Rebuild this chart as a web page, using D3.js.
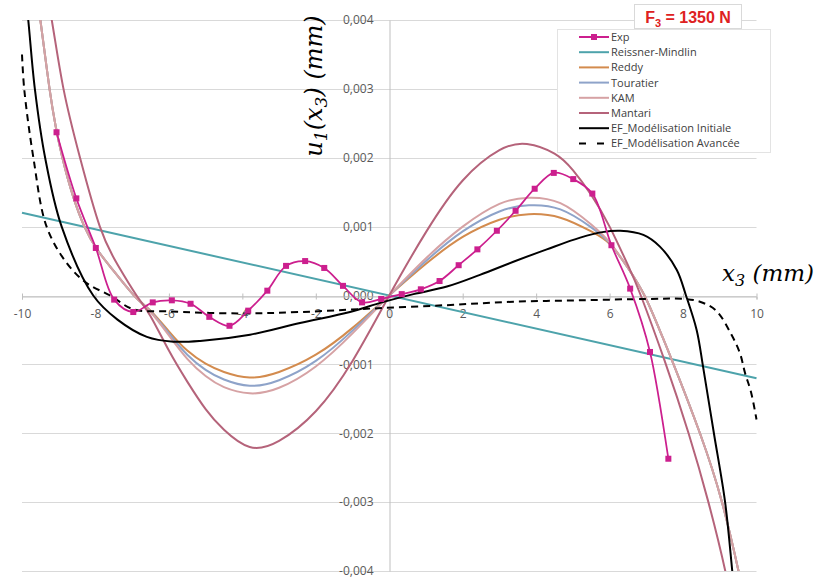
<!DOCTYPE html>
<html>
<head>
<meta charset="utf-8">
<script src="https://cdn.jsdelivr.net/npm/d3@7"></script>
<style>
  body { margin: 0; background: #fff; }
  svg { display: block; }
</style>
</head>
<body>
<svg width="818" height="580"></svg>
<script>
// axis ticks
var x_ticks = [-10, -8, -6, -4, -2, 0, 2, 4, 6, 8, 10];
var y_ticks = [-0.004, -0.003, -0.002, -0.001, 0, 0.001, 0.002, 0.003, 0.004];

// Exp (measured points)
var exp_x = [-9.06, -8.52, -7.99, -7.49, -6.97, -6.44, -5.92, -5.41, -4.9, -4.35, -3.84, -3.32, -2.81, -2.29, -1.77, -1.26, -0.74, -0.22,
             0.34, 0.86, 1.37, 1.89, 2.40, 2.93, 3.44, 3.96, 4.48, 5.01, 5.53, 6.05, 6.56, 7.10, 7.60];
var exp_y = [0.00237, 0.00141, 0.00069, -0.00006, -0.00024, -0.0001, -0.00007, -0.00012, -0.00031, -0.00044, -0.00022, 0.00007, 0.00043, 0.0005, 0.0004, 0.00014, -0.0001, -0.00005,
             0.00002, 0.00009, 0.00021, 0.00044, 0.00067, 0.00094, 0.00123, 0.00155, 0.00178, 0.00169, 0.00148, 0.00073, 0.0001, -0.00082, -0.00237];

// Reissner-Mindlin
var rm_x = [-10, 10];
var rm_y = [0.0012, -0.0012];

// shared abscissae of the model curves
var model_x = [-9.7, -9.5, -9.25, -8.9, -8.3, -7.6, -6.95, -6.5, -6, -5.5, -5, -4.5, -3.8, -3, -2, -1, 0,
               1, 2, 3, 3.8, 4.66, 5.5, 6.02, 6.5, 6.95, 7.4, 7.78, 8.46, 9.06, 9.51, 9.75];

// Reddy
var reddy_y = [0.0046, 0.004, 0.003, 0.002, 0.001, 0.00042, 0, -0.00022, -0.00052, -0.0008, -0.00099, -0.00111, -0.00119, -0.00111, -0.00086, -0.00047, 0,
               0.00046, 0.00085, 0.0011, 0.00118, 0.00113, 0.00093, 0.00074, 0.0004, 0, -0.00055, -0.00105, -0.002, -0.003, -0.004, -0.0046];

// Touratier
var tour_y = [0.0046, 0.004, 0.003, 0.002, 0.001, 0.00042, 0, -0.00023, -0.00055, -0.00086, -0.00108, -0.00122, -0.00131, -0.00123, -0.00095, -0.00051, 0,
              0.0005, 0.00093, 0.00122, 0.00131, 0.00125, 0.00099, 0.00075, 0.0004, 0, -0.00055, -0.00105, -0.002, -0.003, -0.004, -0.0046];

// KAM
var kam_y = [0.0046, 0.004, 0.003, 0.002, 0.001, 0.00042, 0, -0.00024, -0.00058, -0.00092, -0.00117, -0.00133, -0.00142, -0.00134, -0.00103, -0.00055, 0,
             0.00054, 0.001, 0.00133, 0.00142, 0.00134, 0.00103, 0.00076, 0.0004, 0, -0.00055, -0.00105, -0.002, -0.003, -0.004, -0.0046];

// Mantari
var mant_x = [-9.45, -9.19, -8.87, -8.42, -7.88, -7.4, -6.88, -6.5, -6, -5.5, -5, -4.5, -3.8, -3, -2, -1, 0,
              1, 2, 3, 3.75, 4.5, 5, 5.5, 6, 6.5, 6.85, 7.5, 8.15, 8.69, 9.15, 9.4];
var mant_y = [0.0047, 0.004, 0.003, 0.002, 0.001, 0.00045, 0, -0.0003, -0.0008, -0.00125, -0.00165, -0.00195, -0.0022, -0.00211, -0.00168, -0.00095, 0,
              0.00092, 0.00167, 0.00211, 0.0022, 0.00206, 0.00182, 0.00146, 0.001, 0.00044, 0, -0.00095, -0.002, -0.003, -0.004, -0.0047];

// EF_Modélisation Initiale
var efi_x = [-9.95, -9.83, -9.65, -9.37, -8.92, -8.06, -7.4, -6.6, -5.88, -5.15, -3.79, -2.43, -1.07, -0.2,
             0.66, 1.57, 2.47, 3.38, 4.29, 5.2, 5.8, 6.29, 6.92, 7.37, 7.83, 8.08, 8.37, 8.55, 8.84, 9.145, 9.34, 9.45];
var efi_y = [0.0046, 0.004, 0.003, 0.002, 0.001, 0, -0.00035, -0.0006, -0.00067, -0.00066, -0.00057, -0.0004, -0.00024, -0.0001,
             0.00002, 0.00013, 0.0003, 0.00049, 0.00067, 0.00084, 0.00092, 0.00094, 0.00088, 0.00071, 0.00037, 0, -0.0005, -0.00105, -0.002, -0.003, -0.004, -0.0046];

// EF_Modélisation Avancée
var efa_x = [-10, -9.94, -9.69, -9.33, -8.78, -8.24, -7.6, -6.97, -6.06, -4.06, -2.43, -0.5,
             1.57, 3.38, 5.2, 7.01, 8.0, 8.46, 8.9, 9.3, 9.55, 9.69, 9.85, 10];
var efa_y = [0.0035, 0.003, 0.002, 0.001, 0.00047, 0.00018, 0, -0.0002, -0.00023, -0.00026, -0.00024, -0.00019,
             -0.00014, -0.00009, -0.00007, -0.00005, -0.00005, -0.00009, -0.00022, -0.00055, -0.00084, -0.00113, -0.0014, -0.0018];

var legend_names = ["Exp", "Reissner-Mindlin", "Reddy", "Touratier", "KAM", "Mantari",
                    "EF_Modélisation Initiale", "EF_Modélisation Avancée"];

const EXP_COLOR = '#cc1f8e';
const RM_COLOR = '#4da3ab';
const REDDY_COLOR = '#d38b4e';
const TOUR_COLOR = '#8ea3c9';
const KAM_COLOR = '#d6a2a4';
const MANT_COLOR = '#b5637a';

var svg = d3.select("svg");
var ww = 818, hh = 580;

svg.append("rect").attr("width", ww).attr("height", hh).attr("fill", "#fff");

var x = d3.scaleLinear().domain([-10, 10]).range([22, 756.5]);
var y = d3.scaleLinear().domain([-0.004, 0.004]).range([571, 20]);

var fr = d3.formatLocale({decimal: ",", thousands: ".", grouping: [3], currency: ["", ""], minus: "-"});
var yfmt = fr.format(".3f");

// horizontal gridlines
svg.append("g")
    .selectAll("line")
    .data(y_ticks)
    .join("line")
    .attr("x1", x(-10)).attr("x2", x(10))
    .attr("y1", function(d) { return Math.round(y(d)) + 0.5; })
    .attr("y2", function(d) { return Math.round(y(d)) + 0.5; })
    .attr("stroke", "#d9d9d9")
    .attr("stroke-width", 1);

// vertical axis at x=0
var yAxis = svg.append("g")
    .attr("transform", "translate(" + (Math.round(x(0)) + 0.5) + ",0)")
    .call(d3.axisLeft(y).tickValues(y_ticks).tickFormat(yfmt).tickSize(0).tickPadding(16));
yAxis.select(".domain").attr("stroke", "#bfbfbf");
yAxis.selectAll("text")
    .attr("fill", "#595959")
    .style("font-family", "'Open Sans', sans-serif")
    .style("font-size", "12px");

// horizontal axis at y=0
var xAxis = svg.append("g")
    .attr("transform", "translate(0," + (Math.round(y(0)) + 0.5) + ")")
    .call(d3.axisBottom(x).tickValues(x_ticks).tickFormat(function(d) { return d; }).tickSize(3).tickPadding(10));
xAxis.select(".domain").attr("stroke", "#bfbfbf");
xAxis.selectAll(".tick line").attr("y1", -3).attr("y2", 3).attr("stroke", "#bfbfbf");
xAxis.selectAll("text")
    .attr("fill", "#595959")
    .style("font-family", "'Open Sans', sans-serif")
    .style("font-size", "12px");

// clip for the curves
svg.append("clipPath").attr("id", "plot-clip")
    .append("rect")
    .attr("x", x(-10) - 3).attr("y", y(0.004))
    .attr("width", x(10) - x(-10) + 6).attr("height", y(-0.004) - y(0.004));

var plot = svg.append("g").attr("clip-path", "url(#plot-clip)");

function zip(xs, ys) {
    return xs.map(function(v, i) { return [v, ys[i]]; });
}

// smooth spline for the model curves, catmull-rom for the rest
var smooth_line = d3.line()
    .x(function(d) { return x(d[0]); })
    .y(function(d) { return y(d[1]); })
    .curve(d3.curveNatural);

var line = d3.line()
    .x(function(d) { return x(d[0]); })
    .y(function(d) { return y(d[1]); })
    .curve(d3.curveCatmullRom.alpha(0.5));

function draw_curve(xs, ys, color, width, dash, gen) {
    plot.append("path")
        .datum(zip(xs, ys))
        .attr("d", gen || line)
        .attr("fill", "none")
        .attr("stroke", color)
        .attr("stroke-width", width)
        .attr("stroke-dasharray", dash || null)
        .attr("stroke-linejoin", "round");
}

draw_curve(rm_x, rm_y, RM_COLOR, 2);
draw_curve(model_x, reddy_y, REDDY_COLOR, 2, null, smooth_line);
draw_curve(model_x, tour_y, TOUR_COLOR, 2, null, smooth_line);
draw_curve(model_x, kam_y, KAM_COLOR, 2, null, smooth_line);
draw_curve(mant_x, mant_y, MANT_COLOR, 2, null, smooth_line);
draw_curve(efi_x, efi_y, "#000", 2);
draw_curve(efa_x, efa_y, "#000", 2, "7,5");
draw_curve(exp_x, exp_y, EXP_COLOR, 1.75);

// Exp markers
plot.append("g")
    .selectAll("rect")
    .data(zip(exp_x, exp_y))
    .join("rect")
    .attr("x", function(d) { return x(d[0]) - 3; })
    .attr("y", function(d) { return y(d[1]) - 3; })
    .attr("width", 6).attr("height", 6)
    .attr("fill", EXP_COLOR);

// axis titles
var mathFont = "'DejaVu Serif', serif";
var xt = svg.append("text")
    .attr("x", 814).attr("y", 281)
    .attr("text-anchor", "end")
    .style("font-family", mathFont).style("font-style", "italic").style("font-size", "23px")
    .attr("fill", "#000");
xt.append("tspan").text("x");
xt.append("tspan").attr("dy", 5).style("font-size", "16px").text("3");
xt.append("tspan").attr("dy", -5).text(" (mm)");

var yt = svg.append("text")
    .attr("transform", "translate(322,86) rotate(-90)")
    .attr("text-anchor", "middle")
    .style("font-family", mathFont).style("font-style", "italic").style("font-size", "24px")
    .attr("fill", "#000");
yt.append("tspan").text("u");
yt.append("tspan").attr("dy", 5).style("font-size", "17px").text("1");
yt.append("tspan").attr("dy", -5).text("(x");
yt.append("tspan").attr("dy", 5).style("font-size", "17px").text("3");
yt.append("tspan").attr("dy", -5).text(") (mm)");

// legend
var lg = svg.append("g");
lg.append("rect")
    .attr("x", 557.5).attr("y", 29.5).attr("width", 213).attr("height", 123)
    .attr("fill", "#fff").attr("stroke", "#e3e3e3");

var legend_colors = [EXP_COLOR, RM_COLOR, REDDY_COLOR, TOUR_COLOR, KAM_COLOR, MANT_COLOR, "#000", "#000"];
legend_names.forEach(function(name, i) {
    var ly = 37 + i * 15.2;
    lg.append("line")
        .attr("x1", 579).attr("x2", 609)
        .attr("y1", ly).attr("y2", ly)
        .attr("stroke", legend_colors[i])
        .attr("stroke-width", 2)
        .attr("stroke-dasharray", i === 7 ? "7,11" : null);
    if (i === 0) {
        lg.append("rect").attr("x", 591).attr("y", ly - 3).attr("width", 6).attr("height", 6).attr("fill", EXP_COLOR);
    }
    lg.append("text")
        .attr("x", 611).attr("y", ly + 4)
        .style("font-family", "'Open Sans', sans-serif").style("font-size", "11px")
        .attr("fill", "#404040")
        .text(name);
});

// load title box
var tb = svg.append("g");
tb.append("rect")
    .attr("x", 634.5).attr("y", 4.5).attr("width", 107).attr("height", 24)
    .attr("fill", "#fff").attr("stroke", "#d9d9d9");
var tt = tb.append("text")
    .attr("x", 688).attr("y", 23)
    .attr("text-anchor", "middle")
    .style("font-family", "'Liberation Sans', sans-serif").style("font-weight", "bold").style("font-size", "16px")
    .attr("fill", "#de2121");
tt.append("tspan").text("F");
tt.append("tspan").attr("dy", 4).style("font-size", "11px").text("3");
tt.append("tspan").attr("dy", -4).text(" = 1350 N");
</script>
</body>
</html>
